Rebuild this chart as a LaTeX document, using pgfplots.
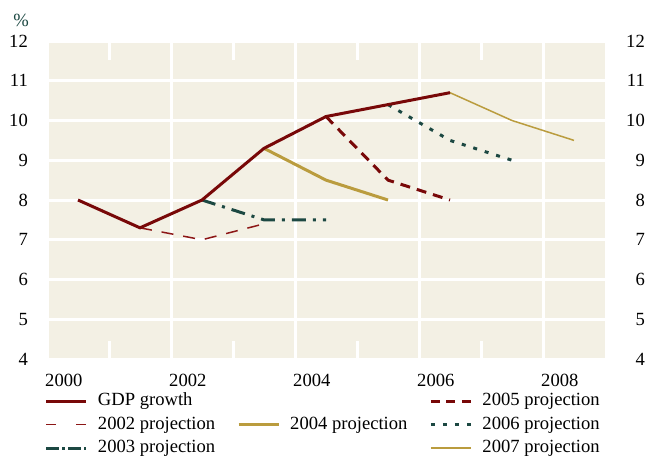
\documentclass[border=0pt]{standalone}
\usepackage{fontspec}
\setmainfont{Liberation Serif}
\usepackage{pgfplots}
\pgfplotsset{compat=1.18}

\definecolor{maroon}{RGB}{120,8,8}
\definecolor{maroonlt}{RGB}{140,22,22}
\definecolor{teal}{RGB}{28,72,66}
\definecolor{gold}{RGB}{186,156,62}
\definecolor{bgc}{RGB}{243,240,228}

\pgfplotsset{
  common/.style={
    at={(47pt,97pt)}, anchor=south west,
    scale only axis, width=558pt, height=318pt,
    xmin=1999.5, xmax=2008.5, ymin=4, ymax=12,
    axis line style={draw=none},
    ytick={4,...,12},
    major tick length=0pt,
    tick label style={font=\fontsize{18.6}{22}\selectfont, text=black},
    /pgf/number format/assume math mode=true,
  },
}

\begin{document}
\begin{tikzpicture}
\path[use as bounding box] (0,0) rectangle (648pt,456pt);

\begin{axis}[
  common,
  axis background/.style={fill=bgc},
  xtick={1999.5,2001.5,2003.5,2005.5,2007.5},
  xticklabels={2000,2002,2004,2006,2008},
  xmajorgrids, ymajorgrids,
  major grid style={white, line width=3pt},
  xticklabel style={anchor=north west, inner sep=0pt, xshift=-2pt, yshift=-15pt},
  yticklabel style={anchor=east, inner sep=0pt, xshift=-19pt},
  legend columns=3,
  legend cell align=left,
  legend image code/.code={\draw[#1] (0pt,0pt) -- (40pt,0pt);},
  legend style={
    at={(-0.004,-0.095)}, anchor=north west,
    draw=none, fill=none, inner sep=0pt,
    font=\fontsize{18.6}{22}\selectfont,
    nodes={inner sep=3pt, text height=13.5pt, text depth=4pt},
    /tikz/every odd column/.append style={column sep=7pt},
    /tikz/every even column/.append style={column sep=19pt},
  },
]

% short white year ticks, top and bottom
\draw[white, line width=3pt] (axis cs:2000.5,12) -- (axis cs:2000.5,11.53);
\draw[white, line width=3pt] (axis cs:2002.5,12) -- (axis cs:2002.5,11.53);
\draw[white, line width=3pt] (axis cs:2004.5,12) -- (axis cs:2004.5,11.53);
\draw[white, line width=3pt] (axis cs:2006.5,12) -- (axis cs:2006.5,11.53);
\draw[white, line width=3pt] (axis cs:2000.5,4) -- (axis cs:2000.5,4.45);
\draw[white, line width=3pt] (axis cs:2002.5,4) -- (axis cs:2002.5,4.45);
\draw[white, line width=3pt] (axis cs:2004.5,4) -- (axis cs:2004.5,4.45);
\draw[white, line width=3pt] (axis cs:2006.5,4) -- (axis cs:2006.5,4.45);

% projections
\addplot[maroonlt, line width=1.5pt, dash pattern=on 12pt off 10pt, forget plot]
  coordinates {(2001,7.3) (2002,7.0) (2003,7.4)};
\addplot[teal, line width=3pt, dash pattern=on 14pt off 7pt on 3pt off 7pt, forget plot]
  coordinates {(2002,8.0) (2003,7.5) (2004,7.5)};
\addplot[gold, line width=3pt, forget plot]
  coordinates {(2003,9.3) (2004,8.5) (2005,8.0)};
\addplot[maroon, line width=3pt, dash pattern=on 10pt off 7pt, forget plot]
  coordinates {(2004,10.1) (2005,8.5) (2006,8.0)};
\addplot[teal, line width=3pt, dash pattern=on 4pt off 8pt, forget plot]
  coordinates {(2005,10.4) (2006,9.5) (2007,9.0)};
\addplot[gold, line width=1.5pt, forget plot]
  coordinates {(2006,10.7) (2007,10.0) (2008,9.5)};

% GDP growth
\addplot[maroon, line width=3pt, forget plot]
  coordinates {(2000,8.0) (2001,7.3) (2002,8.0) (2003,9.3) (2004,10.1) (2005,10.4) (2006,10.7)};

% legend, row by row
\addlegendimage{maroon, line width=3pt}
\addlegendentry{GDP growth}
\addlegendimage{empty legend}
\addlegendentry{}
\addlegendimage{maroon, line width=3pt, dash pattern=on 9pt off 6.5pt}
\addlegendentry{2005 projection}
\addlegendimage{maroonlt, line width=1.5pt, dash pattern=on 10pt off 20pt}
\addlegendentry{2002 projection}
\addlegendimage{gold, line width=3pt}
\addlegendentry{2004 projection}
\addlegendimage{teal, line width=3pt, dash pattern=on 4pt off 8pt}
\addlegendentry{2006 projection}
\addlegendimage{teal, line width=3pt, dash pattern=on 13pt off 3pt on 3pt off 3pt}
\addlegendentry{2003 projection}
\addlegendimage{empty legend}
\addlegendentry{}
\addlegendimage{gold, line width=1.5pt}
\addlegendentry{2007 projection}
\end{axis}

% right-hand scale
\begin{axis}[
  common,
  hide x axis,
  yticklabel pos=right,
  yticklabel style={anchor=east, inner sep=0pt, xshift=40pt},
]
\end{axis}

\node[text=teal, font=\fontsize{18.6}{22}\selectfont] at (21pt,436pt) {\%};
\end{tikzpicture}
\end{document}
